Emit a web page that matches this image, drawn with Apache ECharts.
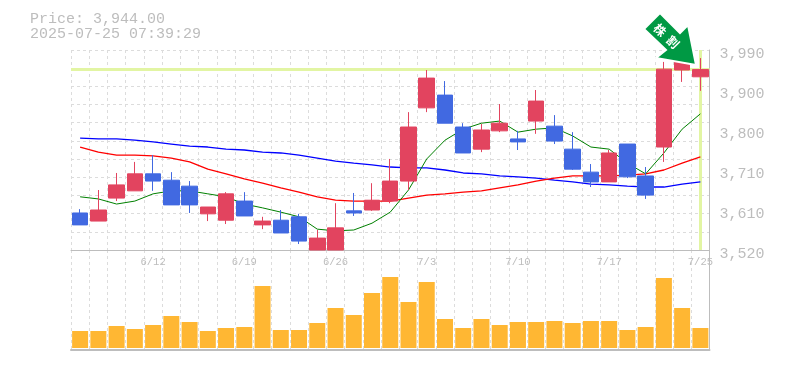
<!DOCTYPE html>
<html>
<head>
<meta charset="utf-8">
<style>html,body{margin:0;padding:0;background:#fff}#chart{width:785px;height:370px}</style>
<script src="https://cdn.jsdelivr.net/npm/echarts@6/dist/echarts.min.js"></script>
</head>
<body>
<div id="chart"></div>
<script>
const dates = ['6/6','6/9','6/10','6/11','6/12','6/13','6/16','6/17','6/18','6/19','6/20','6/23','6/24','6/25','6/26','6/27','6/30','7/1','7/2','7/3','7/4','7/7','7/8','7/9','7/10','7/11','7/14','7/15','7/16','7/17','7/18','7/22','7/23','7/24','7/25']
const opens = [3607,3588,3642,3659,3699,3684,3670,3605,3590,3635,3579,3590,3598,3520,3520,3612,3614,3635,3682,3854,3884,3809,3757,3800,3781,3823,3811,3757,3703,3680,3769,3694,3762,3943,3927]
const closes = [3579,3614,3673,3699,3682,3626,3626,3621,3652,3600,3588,3560,3541,3548,3572,3607,3637,3682,3809,3924,3818,3748,3802,3818,3774,3870,3776,3710,3680,3748,3692,3649,3945,3962,3944]
const lows = [3579,3588,3635,3659,3659,3626,3607,3588,3581,3600,3569,3560,3534,3520,3520,3600,3612,3630,3661,3844,3818,3748,3750,3797,3755,3793,3769,3708,3668,3680,3689,3640,3727,3915,3894]
const highs = [3616,3661,3701,3727,3743,3703,3682,3621,3656,3656,3598,3614,3605,3567,3630,3654,3677,3734,3844,3943,3917,3818,3816,3863,3800,3896,3837,3797,3722,3755,3769,3715,3962,3966,3971]
const maShort = [3645,3640,3628,3635,3652,3659,3659,3652,3645,3628,3619,3609,3598,3569,3565,3567,3583,3609,3661,3734,3778,3804,3818,3823,3797,3804,3807,3788,3762,3757,3724,3699,3748,3804,3840]
const maMid = [3762,3750,3743,3743,3741,3736,3727,3710,3699,3687,3677,3666,3656,3645,3637,3635,3635,3635,3642,3649,3652,3656,3659,3666,3673,3682,3689,3694,3694,3694,3696,3699,3708,3724,3739]
const maLong = [3783,3781,3781,3778,3774,3769,3764,3762,3757,3755,3750,3748,3743,3736,3729,3724,3720,3715,3713,3713,3708,3701,3699,3694,3692,3689,3684,3680,3675,3673,3670,3668,3668,3675,3680]
const volumes = [17,17,22,19,23,32,26,17,20,21,62,18,18,25,40,33,55,71,46,66,29,20,29,23,26,26,27,25,27,27,18,21,70,40,20]
const priceTicks = [3520,3614,3708,3802,3896,3990]
const priceLabels = ['3,520','3,610','3,710','3,800','3,900','3,990']
const gridTicks = [3520,3562.7,3605.5,3648.2,3690.9,3733.6,3776.4,3819.1,3861.8,3904.5,3947.3,3990]
const lastPrice = 3944
const lastDate = '7/25'
const titleLines = ['Price: 3,944.00', '2025-07-25 07:39:29']
const arrowText = ['株', '割']

const MONO = '"Liberation Mono", monospace'
const GRAY = '#bdbdbd'
const GRID = '#dcdcdc'
const UP = '#e2445f'
const DOWN = '#4169e1'
const splitLine = { show: true, interval: 0, lineStyle: { color: GRID, type: [3, 3], width: 1 } }
const axisLine = { show: true, onZero: false, lineStyle: { color: GRAY, width: 1 } }

const chart = echarts.init(document.getElementById('chart'), null, { renderer: 'canvas' })

function maSeries (data, color, width) {
  return {
    type: 'line',
    data: data,
    z: 2,
    symbol: 'none',
    silent: true,
    lineStyle: { color: color, width: width }
  }
}

chart.setOption({
  animation: false,
  backgroundColor: '#fff',
  title: {
    text: titleLines.join('\n'),
    left: 25,
    top: 7,
    textStyle: { fontFamily: MONO, fontSize: 15, fontWeight: 'normal', color: GRAY, lineHeight: 15 }
  },
  grid: [
    { left: 71, top: 50, width: 638.5, height: 200 },
    { left: 71, top: 250, width: 638.5, height: 100 }
  ],
  xAxis: [
    {
      type: 'category',
      gridIndex: 0,
      data: dates,
      axisLine: axisLine,
      axisTick: { show: false },
      splitLine: splitLine,
      axisLabel: {
        interval: (i) => i % 5 === 4,
        margin: 7,
        fontFamily: MONO,
        fontSize: 10.5,
        color: GRAY
      }
    },
    {
      type: 'category',
      gridIndex: 1,
      data: dates,
      axisLine: { show: true, onZero: false, lineStyle: { color: GRAY, width: 2 } },
      axisTick: { show: false },
      axisLabel: { show: false },
      splitLine: splitLine
    }
  ],
  yAxis: [
    {
      type: 'value',
      gridIndex: 0,
      position: 'right',
      min: 3520,
      max: 3990,
      axisLine: axisLine,
      axisTick: { show: false, customValues: gridTicks },
      splitLine: splitLine,
      axisLabel: {
        customValues: priceTicks,
        margin: 10,
        verticalAlign: 'top',
        lineHeight: 8,
        fontFamily: MONO,
        fontSize: 15,
        color: GRAY,
        formatter: (v) => priceLabels[priceTicks.indexOf(v)]
      }
    },
    {
      type: 'value',
      gridIndex: 1,
      position: 'right',
      min: -2,
      max: 98,
      axisLine: axisLine,
      axisTick: { show: false },
      axisLabel: { show: false },
      splitLine: { show: false }
    }
  ],
  series: [
    {
      type: 'line',
      data: [],
      z: 1,
      silent: true,
      markLine: {
        z: 1,
        silent: true,
        symbol: 'none',
        label: { show: false },
        lineStyle: { color: '#e2f5a3', width: 3, type: 'solid' },
        data: [{ yAxis: lastPrice }, { xAxis: lastDate }]
      }
    },
    maSeries(maLong, '#0000ff', 1.3),
    maSeries(maMid, '#ff0000', 1.3),
    maSeries(maShort, '#008000', 1),
    {
      type: 'candlestick',
      z: 3,
      barWidth: 16,
      silent: true,
      data: dates.map((d, i) => [opens[i], closes[i], lows[i], highs[i]]),
      itemStyle: { color: UP, color0: DOWN, borderColor: UP, borderColor0: DOWN, borderWidth: 1 }
    },
    {
      type: 'bar',
      xAxisIndex: 1,
      yAxisIndex: 1,
      barWidth: 16,
      silent: true,
      data: volumes,
      itemStyle: { color: '#ffb733' }
    }
  ],
  graphic: [
    {
      type: 'polygon',
      z: 100,
      shape: { points: [[644, 29], [660, 13], [680, 33], [688, 25], [696, 65], [656, 58], [666, 50]] },
      style: { fill: '#009944', stroke: '#fff', lineWidth: 2 }
    },
    {
      type: 'text',
      z: 101,
      x: 660,
      y: 30,
      rotation: -Math.PI / 4,
      style: { text: arrowText[0], fill: '#fff', font: 'bold 12px "Noto Sans CJK JP"', align: 'center', verticalAlign: 'middle' }
    },
    {
      type: 'text',
      z: 101,
      x: 673,
      y: 42,
      rotation: -Math.PI / 4,
      style: { text: arrowText[1], fill: '#fff', font: 'bold 12px "Noto Sans CJK JP"', align: 'center', verticalAlign: 'middle' }
    }
  ]
})
</script>
</body>
</html>
